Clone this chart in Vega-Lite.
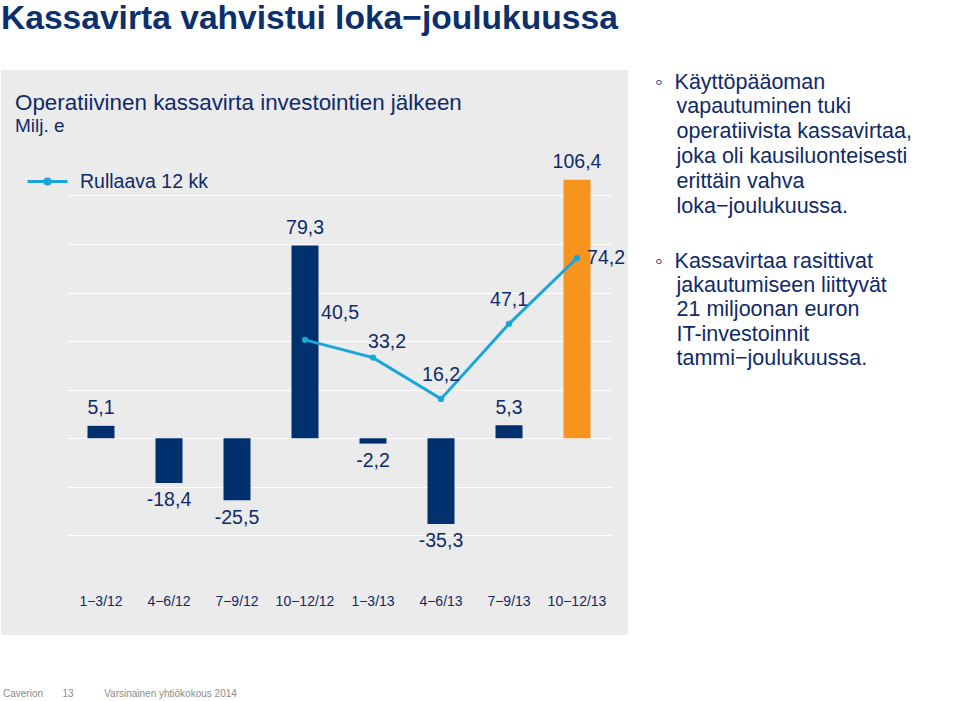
{
  "$schema": "https://vega.github.io/schema/vega-lite/v6.json",
  "padding": {"left": 1, "top": 1, "right": 0, "bottom": 0},
  "background": "white",
  "title": {
    "text": "Kassavirta vahvistui loka−joulukuussa",
    "anchor": "start", "frame": "group", "orient": "top", "baseline": "top",
    "fontSize": 33.6, "fontWeight": "bold", "color": "#0c2f6e", "offset": 29
  },
  "vconcat": [
    {
      "title": {
        "text": "Caverion\u00a0\u00a0\u00a0\u00a0\u00a0\u00a0\u00a013\u00a0\u00a0\u00a0\u00a0\u00a0\u00a0\u00a0\u00a0\u00a0\u00a0\u00a0Varsinainen yhtiökokous 2014",
        "orient": "bottom", "anchor": "start", "frame": "group", "baseline": "top",
        "fontSize": 10, "fontWeight": "normal", "color": "#8c8c8c", "offset": 54, "dx": 2
      },
      "spacing": 27,
      "hconcat": [
        {
          "width": 627,
          "height": 565,
          "view": {"fill": "#ebebeb", "stroke": null},
          "title": {
            "text": "Operatiivinen kassavirta investointien jälkeen",
            "subtitle": "Milj. e",
            "anchor": "start", "frame": "group", "orient": "top", "baseline": "top",
            "fontSize": 22.4, "fontWeight": "normal", "color": "#0f2a6a",
            "subtitleFontSize": 19, "subtitleColor": "#0f2a6a", "subtitlePadding": 3,
            "offset": 0, "dx": 14, "dy": 66
          },
          "data": {
            "values": [
              {"period": "1−3/12", "value": 5.1, "rolling": null},
              {"period": "4−6/12", "value": -18.4, "rolling": null},
              {"period": "7−9/12", "value": -25.5, "rolling": null},
              {"period": "10−12/12", "value": 79.3, "rolling": 40.5},
              {"period": "1−3/13", "value": -2.2, "rolling": 33.2},
              {"period": "4−6/13", "value": -35.3, "rolling": 16.2},
              {"period": "7−9/13", "value": 5.3, "rolling": 47.1},
              {"period": "10−12/13", "value": 106.4, "rolling": 74.2}
            ]
          },
          "encoding": {
            "x": {
              "field": "period", "type": "nominal", "sort": null,
              "scale": {"range": [66, 610], "paddingInner": 0.603, "paddingOuter": 0.3015},
              "axis": {
                "title": null, "domain": false, "ticks": false, "grid": false,
                "labelAngle": 0, "labelFontSize": 14, "labelColor": "#0f2a6a",
                "labelBaseline": "middle", "labelPadding": 0, "offset": -34
              }
            }
          },
          "layer": [
            {
              "mark": {"type": "bar"},
              "encoding": {
                "y": {
                  "field": "value", "type": "quantitative", "title": null,
                  "scale": {"domain": [-81, 151.6], "nice": false, "zero": false},
                  "axis": {
                    "values": [-40, -20, 0, 20, 40, 60, 80, 100],
                    "grid": true, "gridColor": "#ffffff", "gridWidth": 1, "gridOpacity": 1,
                    "labels": false, "ticks": false, "domain": false, "title": null
                  }
                },
                "color": {
                  "condition": {"test": "datum.period === '10−12/13'", "value": "#f7941d"},
                  "value": "#00306e"
                }
              }
            },
            {
              "transform": [{"filter": "datum.value >= 0"}],
              "mark": {"type": "text", "baseline": "middle", "dy": -17.5, "fontSize": 19.5, "color": "#0f2a6a"},
              "encoding": {
                "y": {"field": "value", "type": "quantitative", "title": null, "scale": {"domain": [-81, 151.6], "nice": false, "zero": false}},
                "text": {"field": "value", "type": "quantitative", "format": ".1f"}
              }
            },
            {
              "transform": [{"filter": "datum.value < 0"}],
              "mark": {"type": "text", "baseline": "middle", "dy": 17.5, "fontSize": 19.5, "color": "#0f2a6a"},
              "encoding": {
                "y": {"field": "value", "type": "quantitative", "title": null, "scale": {"domain": [-81, 151.6], "nice": false, "zero": false}},
                "text": {"field": "value", "type": "quantitative", "format": ".1f"}
              }
            },
            {
              "transform": [{"filter": "isValid(datum.rolling)"}],
              "mark": {"type": "line", "strokeWidth": 3, "point": {"filled": true, "size": 40}},
              "encoding": {
                "y": {"field": "rolling", "type": "quantitative", "title": null, "scale": {"domain": [-81, 151.6], "nice": false, "zero": false}},
                "color": {
                  "datum": "Rullaava 12 kk",
                  "scale": {"range": ["#1aa6da"]},
                  "legend": {
                    "title": null, "orient": "none", "legendX": 25, "legendY": 90,
                    "symbolType": "M-1,0H1M0,-0.13A0.13,0.13,0,1,1,0,0.13A0.13,0.13,0,1,1,0,-0.13Z",
                    "symbolSize": 1600, "symbolStrokeWidth": 3,
                    "labelFontSize": 19.5, "labelColor": "#0f2a6a", "labelOffset": 11,
                    "encode": {"symbols": {"update": {"fill": {"value": "#1aa6da"}, "stroke": {"value": "#1aa6da"}, "strokeWidth": {"value": 3}}}}
                  }
                }
              }
            },
            {
              "transform": [{"filter": "datum.period === '10−12/12'"}],
              "mark": {"type": "text", "baseline": "middle", "dx": 35, "dy": -27, "fontSize": 19.5, "color": "#0f2a6a"},
              "encoding": {
                "y": {"field": "rolling", "type": "quantitative", "title": null, "scale": {"domain": [-81, 151.6], "nice": false, "zero": false}},
                "text": {"field": "rolling", "type": "quantitative", "format": ".1f"}
              }
            },
            {
              "transform": [{"filter": "datum.period === '1−3/13'"}],
              "mark": {"type": "text", "baseline": "middle", "dx": 14, "dy": -16, "fontSize": 19.5, "color": "#0f2a6a"},
              "encoding": {
                "y": {"field": "rolling", "type": "quantitative", "title": null, "scale": {"domain": [-81, 151.6], "nice": false, "zero": false}},
                "text": {"field": "rolling", "type": "quantitative", "format": ".1f"}
              }
            },
            {
              "transform": [{"filter": "datum.period === '4−6/13' || datum.period === '7−9/13'"}],
              "mark": {"type": "text", "baseline": "middle", "dx": 0, "dy": -24, "fontSize": 19.5, "color": "#0f2a6a"},
              "encoding": {
                "y": {"field": "rolling", "type": "quantitative", "title": null, "scale": {"domain": [-81, 151.6], "nice": false, "zero": false}},
                "text": {"field": "rolling", "type": "quantitative", "format": ".1f"}
              }
            },
            {
              "transform": [{"filter": "datum.period === '10−12/13'"}],
              "mark": {"type": "text", "baseline": "middle", "dx": 29, "dy": 0, "fontSize": 19.5, "color": "#0f2a6a"},
              "encoding": {
                "y": {"field": "rolling", "type": "quantitative", "title": null, "scale": {"domain": [-81, 151.6], "nice": false, "zero": false}},
                "text": {"field": "rolling", "type": "quantitative", "format": ".1f"}
              }
            }
          ]
        },
        {
          "width": 300,
          "height": 1,
          "data": {"values": [{}]},
          "mark": {"type": "text", "opacity": 0},
          "encoding": {"text": {"value": ""}},
          "title": {
            "text": ["◦\u00a0\u00a0Käyttöpääoman", "\u200b\u2003vapautuminen tuki", "\u200b\u2003operatiivista kassavirtaa,", "\u200b\u2003joka oli kausiluonteisesti", "\u200b\u2003erittäin vahva", "\u200b\u2003loka−joulukuussa."],
            "subtitle": ["◦\u00a0\u00a0Kassavirtaa rasittivat", "\u200b\u2003jakautumiseen liittyvät", "\u200b\u200321 miljoonan euron", "\u200b\u2003IT-investoinnit", "\u200b\u2003tammi−joulukuussa."],
            "anchor": "start", "frame": "group", "orient": "bottom", "baseline": "top",
            "fontSize": 21.5, "fontWeight": "normal", "color": "#0f2a6a", "lineHeight": 24.8,
            "subtitleFontSize": 21.5, "subtitleColor": "#0f2a6a", "subtitleLineHeight": 24.2,
            "subtitlePadding": 34, "offset": -4
          }
        }
      ]
    }
  ],
  "config": {
    "font": "Liberation Sans",
    "view": {"stroke": null},
    "locale": {"number": {"decimal": ",", "thousands": "\u00a0", "grouping": [3], "currency": ["", "\u00a0€"], "minus": "-"}}
  }
}
